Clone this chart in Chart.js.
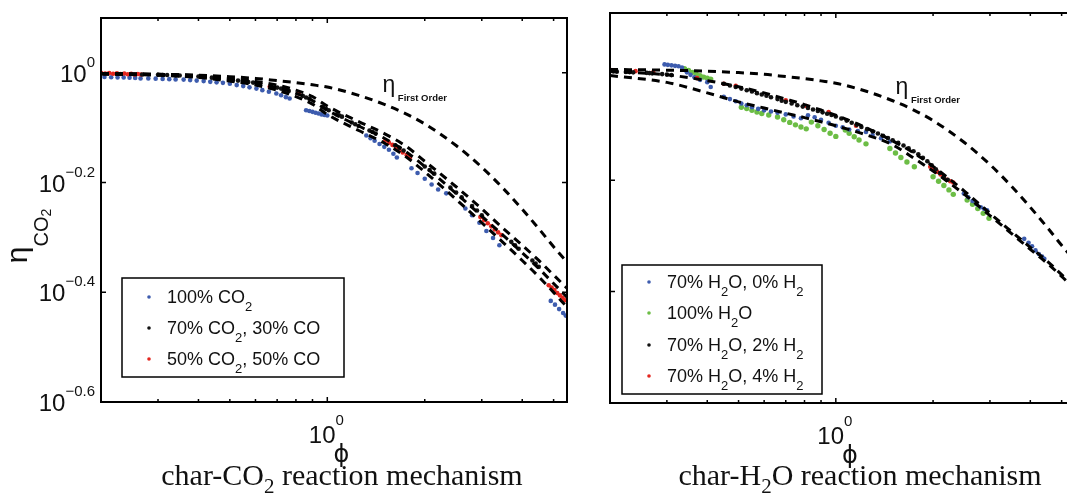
<!DOCTYPE html>
<html lang="en">
<head>
<meta charset="UTF-8">
<title>Effectiveness factor vs Thiele modulus</title>
<script src="https://cdn.jsdelivr.net/npm/chart.js"></script>
<style>
    html, body { margin: 0; padding: 0; background: #fff; }
    #wrap { position: relative; width: 1067px; height: 494px; overflow: hidden; background: #fff; }
    #leftChart { position: absolute; left: 0; top: 0; }
    #rightChart { position: absolute; left: 580px; top: 0; }
</style>
</head>
<body>
<div id="wrap">
    <canvas id="leftChart" width="580" height="494"></canvas>
    <canvas id="rightChart" width="500" height="494"></canvas>
</div>
<script>
// axis ranges and ticks
const PHI_MIN = 0.2, PHI_MAX = 5.5;
const ETA_MIN = 0.2512, ETA_MAX = 1.2589;
const xMajorTicks = [1];
const xMinorTicks = [0.3, 0.4, 0.5, 0.6, 0.7, 0.8, 0.9, 2, 3, 4, 5];
const yTickValues = [1, 0.631, 0.3981, 0.2512];
const yTickExps = ['0', '\u22120.2', '\u22120.4', '\u22120.6'];

// model curves (dashed)
const phiCurve = [0.2, 0.3, 0.4, 0.5, 0.6, 0.7, 0.8, 0.9, 1.0, 1.25, 1.5, 1.75, 2.0, 2.5, 3.0, 3.5, 4.0, 4.5, 5.0, 5.5];
const etaFirstOrder = [0.997, 0.994, 0.99, 0.984, 0.977, 0.968, 0.96, 0.951, 0.942, 0.91, 0.876, 0.842, 0.807, 0.737, 0.673, 0.615, 0.564, 0.52, 0.482, 0.452];
const co2CurveA = [0.997, 0.994, 0.988, 0.978, 0.965, 0.95, 0.93, 0.905, 0.87, 0.815, 0.775, 0.735, 0.69, 0.62, 0.565, 0.52, 0.485, 0.455, 0.428, 0.405];
const co2CurveB = [0.996, 0.992, 0.985, 0.972, 0.958, 0.94, 0.918, 0.89, 0.855, 0.80, 0.76, 0.718, 0.675, 0.603, 0.548, 0.505, 0.47, 0.44, 0.413, 0.39];
const co2CurveC = [0.995, 0.99, 0.981, 0.966, 0.95, 0.93, 0.905, 0.877, 0.84, 0.785, 0.745, 0.703, 0.66, 0.588, 0.533, 0.49, 0.455, 0.425, 0.398, 0.374];
const h2oCurveA = [0.99, 0.975, 0.952, 0.928, 0.905, 0.882, 0.862, 0.843, 0.825, 0.782, 0.742, 0.705, 0.668, 0.603, 0.55, 0.51, 0.478, 0.452, 0.427, 0.405];
const h2oCurveB = [0.972, 0.945, 0.905, 0.872, 0.85, 0.832, 0.817, 0.803, 0.79, 0.76, 0.73, 0.69, 0.655, 0.595, 0.545, 0.506, 0.474, 0.448, 0.424, 0.402];

// char-CO2 measurements
const co2PurePhi = [0.205, 0.215, 0.225, 0.235, 0.245, 0.255, 0.265, 0.28, 0.295, 0.31, 0.325, 0.34, 0.36, 0.377, 0.395, 0.415, 0.435, 0.455, 0.476, 0.5, 0.525, 0.55, 0.575, 0.604, 0.63, 0.66, 0.696, 0.72, 0.745, 0.765,
    0.86, 0.88, 0.9, 0.92, 0.94, 0.96, 0.98, 1.0,
    1.32, 1.36, 1.4, 1.45, 1.5, 1.55, 1.6, 1.64,
    1.82, 1.9, 2.0, 2.1, 2.2, 2.33,
    2.67, 2.8, 2.95, 3.1, 3.25, 3.4,
    4.9, 5.05, 5.2, 5.35, 5.45];
const co2PureEta = [0.983, 0.982, 0.981, 0.981, 0.98, 0.979, 0.977, 0.977, 0.976, 0.975, 0.974, 0.973, 0.972, 0.97, 0.968, 0.966, 0.963, 0.961, 0.959, 0.955, 0.95, 0.946, 0.941, 0.936, 0.93, 0.924, 0.917, 0.91, 0.903, 0.898,
    0.855, 0.852, 0.849, 0.846, 0.843, 0.84, 0.838, 0.836,
    0.769, 0.76, 0.752, 0.742, 0.733, 0.724, 0.712, 0.701,
    0.67, 0.657, 0.641, 0.626, 0.613, 0.603,
    0.566, 0.55, 0.533, 0.515, 0.5, 0.485,
    0.384, 0.378, 0.371, 0.365, 0.361];
const co2Co30Phi = [0.268, 0.3, 0.31, 0.32, 0.34, 0.35, 0.4, 0.405, 0.44, 0.46, 0.51, 0.53, 0.57, 0.59, 0.61, 0.7, 0.72, 0.74, 0.76, 0.84, 0.86, 0.88, 0.97, 0.99, 1.01, 1.07, 1.09, 1.11, 1.19, 1.22, 1.25, 1.35, 1.38, 1.41, 1.62, 1.67, 1.72, 2.0, 2.07, 2.14, 2.4, 2.5, 2.6, 2.8, 2.9, 3.0, 3.7, 3.8, 3.9, 4.3, 4.4, 4.5];
const co2Co30Eta = [0.993, 0.992, 0.991, 0.991, 0.99, 0.989, 0.985, 0.985, 0.98, 0.978, 0.971, 0.968, 0.962, 0.96, 0.956, 0.94, 0.936, 0.932, 0.927, 0.908, 0.902, 0.897, 0.866, 0.86, 0.855, 0.84, 0.836, 0.832, 0.812, 0.806, 0.8, 0.785, 0.78, 0.775, 0.738, 0.73, 0.722, 0.675, 0.665, 0.655, 0.618, 0.605, 0.593, 0.572, 0.561, 0.55, 0.492, 0.485, 0.478, 0.455, 0.449, 0.443];
const co2Co50Phi = [0.2, 0.206, 0.212, 0.218, 0.224, 0.23, 0.236, 0.242, 0.248, 0.254, 0.26, 0.266,
    0.664, 0.747, 0.817,
    1.51, 1.55, 1.59, 1.63, 1.67, 1.71, 1.76, 1.8,
    2.97, 3.05, 3.13, 3.21, 3.29, 3.37, 3.45,
    4.83, 4.93, 5.03, 5.13, 5.23, 5.33, 5.42];
const co2Co50Eta = [1.0, 0.997, 0.999, 0.996, 0.998, 0.995, 0.997, 0.994, 0.996, 0.993, 0.995, 0.993,
    0.943, 0.93, 0.917,
    0.753, 0.746, 0.739, 0.731, 0.724, 0.716, 0.708, 0.7,
    0.546, 0.539, 0.532, 0.525, 0.518, 0.512, 0.506,
    0.41, 0.406, 0.402, 0.397, 0.393, 0.389, 0.385];

// char-H2O measurements
const h2oH0Phi = [0.295, 0.302, 0.31, 0.318, 0.326, 0.334, 0.346, 0.355, 0.365, 0.38, 0.4, 0.41, 0.45, 0.47, 0.49, 0.51, 0.53, 0.55, 0.575, 0.6, 0.63, 0.66, 0.7, 0.74, 0.78, 0.82, 0.86, 0.9, 0.95, 1.0, 1.05, 1.1, 1.17, 1.24, 1.3, 1.38, 1.47,
    2.49, 2.57, 2.65, 2.73, 2.81, 2.88, 2.94,
    3.83, 3.95, 4.05, 4.15, 4.25, 4.35, 4.42];
const h2oH0Eta = [1.018, 1.016, 1.014, 1.012, 1.01, 1.005, 0.985, 0.975, 0.965, 0.955, 0.946, 0.927, 0.89, 0.882, 0.874, 0.866, 0.86, 0.853, 0.847, 0.842, 0.838, 0.834, 0.828, 0.821, 0.815, 0.825, 0.818, 0.81, 0.8, 0.79, 0.785, 0.778, 0.773, 0.77, 0.76, 0.75, 0.74,
    0.597, 0.588, 0.579, 0.571, 0.564, 0.56, 0.557,
    0.495, 0.487, 0.48, 0.472, 0.465, 0.46, 0.456];
const h2oPurePhi = [0.34, 0.35, 0.36, 0.37, 0.38, 0.39, 0.4, 0.41, 0.51, 0.53, 0.55, 0.57, 0.59, 0.62, 0.66, 0.69, 0.72, 0.75, 0.78, 0.81, 0.84, 0.88, 0.92, 0.96, 1.0, 1.07, 1.1, 1.14, 1.18, 1.24, 1.47, 1.53, 1.59, 1.66, 1.75, 2.0, 2.08, 2.16, 2.24, 2.31, 2.55, 2.65, 2.75, 2.86, 2.98];
const h2oPureEta = [1.0, 0.993, 0.985, 0.978, 0.972, 0.966, 0.962, 0.958, 0.853, 0.848, 0.842, 0.836, 0.831, 0.826, 0.819, 0.81, 0.801, 0.793, 0.786, 0.78, 0.802, 0.79, 0.778, 0.766, 0.756, 0.776, 0.766, 0.755, 0.745, 0.733, 0.719, 0.706, 0.693, 0.68, 0.667, 0.64, 0.628, 0.617, 0.606, 0.595, 0.581, 0.571, 0.561, 0.55, 0.539];
const h2oH2Phi = [0.2, 0.205, 0.21, 0.224, 0.23, 0.236, 0.26, 0.265, 0.27, 0.29, 0.3, 0.31, 0.45, 0.47, 0.49, 0.51, 0.53, 0.55, 0.57, 0.59, 0.61, 0.63, 0.66, 0.68, 0.7, 0.73, 0.76, 0.79, 0.82, 0.85, 0.88, 0.91, 0.94, 0.97, 1.0, 1.04, 1.08, 1.12, 1.16, 1.2, 1.25, 1.3, 1.35, 1.4, 1.45, 1.5, 1.56, 1.62, 1.68, 1.74, 1.8, 1.86, 1.92, 1.98, 2.04, 2.1, 2.16, 2.22];
const h2oH2Eta = [0.99, 0.989, 0.988, 0.987, 0.986, 0.985, 0.983, 0.982, 0.981, 0.978, 0.976, 0.974, 0.94, 0.933, 0.927, 0.921, 0.915, 0.91, 0.904, 0.899, 0.894, 0.889, 0.882, 0.876, 0.872, 0.866, 0.86, 0.855, 0.85, 0.845, 0.84, 0.835, 0.83, 0.826, 0.821, 0.814, 0.807, 0.8, 0.793, 0.786, 0.779, 0.772, 0.765, 0.758, 0.751, 0.744, 0.736, 0.728, 0.72, 0.711, 0.702, 0.692, 0.682, 0.671, 0.66, 0.65, 0.64, 0.632];
const h2oH4Phi = [0.2, 0.24, 0.272, 0.372, 0.45, 0.49, 0.7, 0.81, 0.95, 1.155, 1.96, 2.01, 2.06, 2.11, 2.16, 2.21, 2.26, 2.31];
const h2oH4Eta = [0.995, 0.99, 0.985, 0.962, 0.94, 0.932, 0.878, 0.857, 0.836, 0.79, 0.667, 0.66, 0.653, 0.646, 0.639, 0.632, 0.628, 0.625];

// legend entries: [text, isSubscript]
const legendCo2 = [
    [['100% CO', 0], ['2', 1]],
    [['70% CO', 0], ['2', 1], [', 30% CO', 0]],
    [['50% CO', 0], ['2', 1], [', 50% CO', 0]]
];
const legendH2o = [
    [['70% H', 0], ['2', 1], ['O, 0% H', 0], ['2', 1]],
    [['100% H', 0], ['2', 1], ['O', 0]],
    [['70% H', 0], ['2', 1], ['O, 2% H', 0], ['2', 1]],
    [['70% H', 0], ['2', 1], ['O, 4% H', 0], ['2', 1]]
];

const BLUE = '#3d5cae', RED = '#e3261f', GREEN = '#6cbd45', BLACK = '#111';
const SANS = '"Liberation Sans", Arial, sans-serif';
const SERIF = '"Liberation Serif", "Times New Roman", serif';

const pts = (xs, ys) => xs.map((x, i) => ({ x: x, y: ys[i] }));

function curve(ys) {
    return {
        data: pts(phiCurve, ys), showLine: true, borderColor: '#000', borderWidth: 3,
        borderDash: [8, 6], pointRadius: 0, cubicInterpolationMode: 'monotone'
    };
}

function dots(xs, ys, color, r) {
    return {
        data: pts(xs, ys), showLine: false, pointRadius: r, pointBorderWidth: 0,
        pointBackgroundColor: color, borderColor: color, backgroundColor: color
    };
}

// draws a run of text pieces: [text, size, dy, weight]
function rich(ctx, x, y, parts, align, family) {
    let w = 0;
    parts.forEach(p => {
        ctx.font = (p[3] || 'normal') + ' ' + p[1] + 'px ' + family;
        w += ctx.measureText(p[0]).width;
    });
    let cx = align === 'right' ? x - w : align === 'center' ? x - w / 2 : x;
    ctx.textAlign = 'left';
    ctx.textBaseline = 'alphabetic';
    parts.forEach(p => {
        ctx.font = (p[3] || 'normal') + ' ' + p[1] + 'px ' + family;
        ctx.fillText(p[0], cx, y + (p[2] || 0));
        cx += ctx.measureText(p[0]).width;
    });
}

const decor = {
    id: 'decor',
    afterDraw(chart, args, o) {
        const ctx = chart.ctx, a = chart.chartArea;
        const xs = chart.scales.x, ys = chart.scales.y;
        ctx.save();
        ctx.strokeStyle = '#000';
        ctx.fillStyle = '#111';

        // frame and inward ticks
        ctx.lineWidth = 2;
        ctx.strokeRect(a.left, a.top, a.right - a.left, a.bottom - a.top);
        ctx.lineWidth = 1.5;
        ctx.beginPath();
        xMinorTicks.forEach(v => {
            const x = xs.getPixelForValue(v);
            ctx.moveTo(x, a.bottom); ctx.lineTo(x, a.bottom - 3);
            ctx.moveTo(x, a.top); ctx.lineTo(x, a.top + 3);
        });
        xMajorTicks.forEach(v => {
            const x = xs.getPixelForValue(v);
            ctx.moveTo(x, a.bottom); ctx.lineTo(x, a.bottom - 5);
            ctx.moveTo(x, a.top); ctx.lineTo(x, a.top + 5);
        });
        yTickValues.forEach(v => {
            const y = ys.getPixelForValue(v);
            ctx.moveTo(a.left, y); ctx.lineTo(a.left + 5, y);
            ctx.moveTo(a.right, y); ctx.lineTo(a.right - 5, y);
        });
        ctx.stroke();

        // tick labels
        if (o.yLabels) {
            yTickValues.forEach((v, i) => {
                const y = ys.getPixelForValue(v);
                rich(ctx, a.left - 6, y + 9, [['10', 24, 0], [yTickExps[i], 15, -15]], 'right', SANS);
            });
        }
        xMajorTicks.forEach(v => {
            const x = xs.getPixelForValue(v);
            rich(ctx, x - 1, a.bottom + 41, [['10', 24, 0], ['0', 15, -18]], 'center', SANS);
            ctx.font = '24px "DejaVu Sans", sans-serif';
            ctx.textAlign = 'center';
            ctx.fillText('\u03D5', x + 14, a.bottom + 60);
        });

        // y axis title
        if (o.yTitle) {
            ctx.save();
            ctx.translate(27, 236);
            ctx.rotate(-Math.PI / 2);
            rich(ctx, 0, 0, [['\u03B7', 30, 0], ['CO', 20, 21], ['2', 14, 24]], 'center', SANS);
            ctx.restore();
        }

        // first order annotation
        const ex = xs.getPixelForValue(o.etaAt[0]), ey = ys.getPixelForValue(o.etaAt[1]);
        rich(ctx, ex, ey, [['\u03B7', 23, 0], [' First Order', 9.5, 9, 'bold']], 'left', SANS);

        // legend box
        const L = o.legend;
        const bx = a.left + L.dx, by = a.top + L.dy;
        ctx.lineWidth = 1.5;
        ctx.strokeRect(bx, by, L.w, L.h);
        L.rows.forEach((row, i) => {
            const ry = by + L.rowY[i];
            ctx.fillStyle = L.colors[i];
            ctx.beginPath();
            ctx.arc(bx + 27, ry, 1.8, 0, Math.PI * 2);
            ctx.fill();
            ctx.fillStyle = '#111';
            rich(ctx, bx + 45, ry + 6, row.map(p => p[1] ? [p[0], 13, 8] : [p[0], 18, 0]), 'left', SANS);
        });

        // caption
        rich(ctx, o.caption.x, o.caption.y, o.caption.parts, 'center', SERIF);
        ctx.restore();
    }
};

function makeChart(id, datasets, padding, decorOpts) {
    return new Chart(document.getElementById(id), {
        type: 'scatter',
        data: { datasets: datasets },
        options: {
            responsive: false,
            animation: false,
            events: [],
            layout: { padding: padding },
            scales: {
                x: { type: 'logarithmic', min: PHI_MIN, max: PHI_MAX, display: false },
                y: { type: 'logarithmic', min: ETA_MIN, max: ETA_MAX, display: false }
            },
            plugins: {
                legend: { display: false },
                tooltip: { enabled: false },
                decor: decorOpts
            }
        },
        plugins: [decor]
    });
}

makeChart('leftChart', [
    curve(etaFirstOrder), curve(co2CurveA), curve(co2CurveB), curve(co2CurveC),
    dots(co2Co30Phi, co2Co30Eta, BLACK, 2.3),
    dots(co2Co50Phi, co2Co50Eta, RED, 2.3),
    dots(co2PurePhi, co2PureEta, BLUE, 2.3)
], { left: 101, right: 13, top: 18, bottom: 92 }, {
    yLabels: true, yTitle: true, etaAt: [1.48, 0.922],
    legend: { dx: 21, dy: 260, w: 222, h: 99, rowY: [19, 50, 81], rows: legendCo2, colors: [BLUE, BLACK, RED] },
    caption: { x: 342, y: 485, parts: [['char-CO', 30, 0], ['2', 21, 8], [' reaction mechanism', 30, 0]] }
});

makeChart('rightChart', [
    curve(etaFirstOrder), curve(h2oCurveA), curve(h2oCurveB),
    dots(h2oH2Phi, h2oH2Eta, BLACK, 2.3),
    dots(h2oH4Phi, h2oH4Eta, RED, 2.3),
    dots(h2oH0Phi, h2oH0Eta, BLUE, 2.3),
    dots(h2oPurePhi, h2oPureEta, GREEN, 2.7)
], { left: 30, right: 5, top: 13, bottom: 91 }, {
    yLabels: false, yTitle: false, etaAt: [1.53, 0.90],
    legend: { dx: 12, dy: 252, w: 200, h: 129, rowY: [17, 48, 80, 111], rows: legendH2o, colors: [BLUE, GREEN, BLACK, RED] },
    caption: { x: 280, y: 485, parts: [['char-H', 30, 0], ['2', 21, 8], ['O reaction mechanism', 30, 0]] }
});
</script>
</body>
</html>
